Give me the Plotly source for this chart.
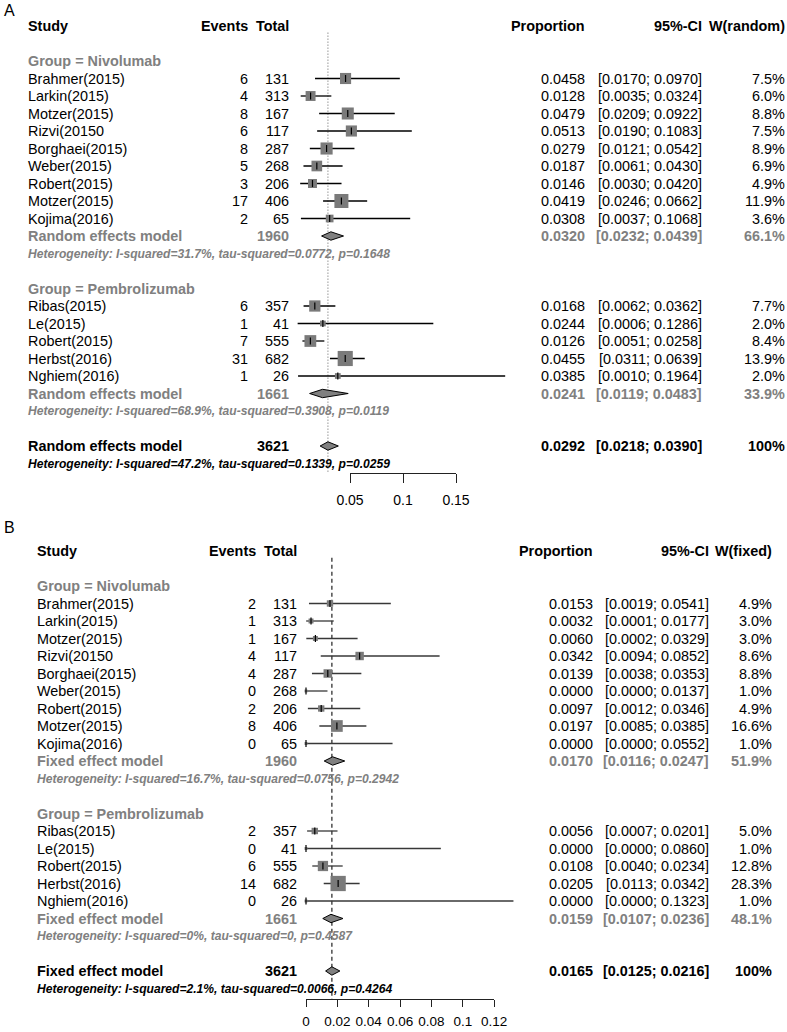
import plotly.graph_objects as go
import math

W, H = 787, 1032

# ---------------- data ----------------
studies_nivo = ["Brahmer(2015)", "Larkin(2015)", "Motzer(2015)", "Rizvi(20150", "Borghaei(2015)",
                "Weber(2015)", "Robert(2015)", "Motzer(2015)", "Kojima(2016)"]
studies_pemb = ["Ribas(2015)", "Le(2015)", "Robert(2015)", "Herbst(2016)", "Nghiem(2016)"]
total_nivo = [131, 313, 167, 117, 287, 268, 206, 406, 65]
total_pemb = [357, 41, 555, 682, 26]
total_nivo_sum = 1960
total_pemb_sum = 1661
total_all = 3621

# Panel A (random effects)
A_events_nivo = [6, 4, 8, 6, 8, 5, 3, 17, 2]
A_prop_nivo = [0.0458, 0.0128, 0.0479, 0.0513, 0.0279, 0.0187, 0.0146, 0.0419, 0.0308]
A_lo_nivo = [0.0170, 0.0035, 0.0209, 0.0190, 0.0121, 0.0061, 0.0030, 0.0246, 0.0037]
A_hi_nivo = [0.0970, 0.0324, 0.0922, 0.1083, 0.0542, 0.0430, 0.0420, 0.0662, 0.1068]
A_w_nivo = [7.5, 6.0, 8.8, 7.5, 8.9, 6.9, 4.9, 11.9, 3.6]
A_sum_nivo = [0.0320, 0.0232, 0.0439, 66.1]
A_het_nivo = "Heterogeneity: I-squared=31.7%, tau-squared=0.0772, p=0.1648"
A_events_pemb = [6, 1, 7, 31, 1]
A_prop_pemb = [0.0168, 0.0244, 0.0126, 0.0455, 0.0385]
A_lo_pemb = [0.0062, 0.0006, 0.0051, 0.0311, 0.0010]
A_hi_pemb = [0.0362, 0.1286, 0.0258, 0.0639, 0.1964]
A_w_pemb = [7.7, 2.0, 8.4, 13.9, 2.0]
A_sum_pemb = [0.0241, 0.0119, 0.0483, 33.9]
A_het_pemb = "Heterogeneity: I-squared=68.9%, tau-squared=0.3908, p=0.0119"
A_sum_all = [0.0292, 0.0218, 0.0390, 100]
A_het_all = "Heterogeneity: I-squared=47.2%, tau-squared=0.1339, p=0.0259"
A_ticks = [0.05, 0.1, 0.15]
A_ticklabels = ["0.05", "0.1", "0.15"]

# Panel B (fixed effect)
B_events_nivo = [2, 1, 1, 4, 4, 0, 2, 8, 0]
B_prop_nivo = [0.0153, 0.0032, 0.0060, 0.0342, 0.0139, 0.0000, 0.0097, 0.0197, 0.0000]
B_lo_nivo = [0.0019, 0.0001, 0.0002, 0.0094, 0.0038, 0.0000, 0.0012, 0.0085, 0.0000]
B_hi_nivo = [0.0541, 0.0177, 0.0329, 0.0852, 0.0353, 0.0137, 0.0346, 0.0385, 0.0552]
B_w_nivo = [4.9, 3.0, 3.0, 8.6, 8.8, 1.0, 4.9, 16.6, 1.0]
B_sum_nivo = [0.0170, 0.0116, 0.0247, 51.9]
B_het_nivo = "Heterogeneity: I-squared=16.7%, tau-squared=0.0756, p=0.2942"
B_events_pemb = [2, 0, 6, 14, 0]
B_prop_pemb = [0.0056, 0.0000, 0.0108, 0.0205, 0.0000]
B_lo_pemb = [0.0007, 0.0000, 0.0040, 0.0113, 0.0000]
B_hi_pemb = [0.0201, 0.0860, 0.0234, 0.0342, 0.1323]
B_w_pemb = [5.0, 1.0, 12.8, 28.3, 1.0]
B_sum_pemb = [0.0159, 0.0107, 0.0236, 48.1]
B_het_pemb = "Heterogeneity: I-squared=0%, tau-squared=0, p=0.4587"
B_sum_all = [0.0165, 0.0125, 0.0216, 100]
B_het_all = "Heterogeneity: I-squared=2.1%, tau-squared=0.0066, p=0.4264"
B_ticks = [0, 0.02, 0.04, 0.06, 0.08, 0.1, 0.12]
B_ticklabels = ["0", "0.02", "0.04", "0.06", "0.08", "0.1", "0.12"]

# ---------------- styling ----------------
FONT = "Liberation Sans, Arial, Helvetica, sans-serif"
GRAY = "#808080"
FS = 14.4
FS_HET = 12.1
ROW = 17.5

panels = [
    dict(name="A", xa="x", ya="y", axis="xaxis", yaxis="yaxis", tickaxis="xaxis3", tickref="x3",
         top_px=0, bot_px=515, row0=26, zero_px=297, unit_px=1060,
         study_x=27, ev_r=249.3, tot_r=290, prop_r=586, ci_r=702.5, w_r=786,
         wlab="W(random)", model="Random effects model",
         events_nivo=A_events_nivo, prop_nivo=A_prop_nivo, lo_nivo=A_lo_nivo, hi_nivo=A_hi_nivo, w_nivo=A_w_nivo,
         sum_nivo=A_sum_nivo, het_nivo=A_het_nivo,
         events_pemb=A_events_pemb, prop_pemb=A_prop_pemb, lo_pemb=A_lo_pemb, hi_pemb=A_hi_pemb, w_pemb=A_w_pemb,
         sum_pemb=A_sum_pemb, het_pemb=A_het_pemb, sum_all=A_sum_all, het_all=A_het_all,
         ticks=A_ticks, ticklabels=A_ticklabels, axis_px=472.7, ticklen=9, tickfs=14, sq=4.06,
         ref_dash="1px,2px", ref_col="#606060", ref_w=1.0, ci_col="black", standoff=5,
         label_y=10),
    dict(name="B", xa="x2", ya="y2", axis="xaxis2", yaxis="yaxis2", tickaxis="xaxis4", tickref="x4",
         top_px=515, bot_px=1032, row0=551, zero_px=306, unit_px=1568,
         study_x=36, ev_r=257.3, tot_r=298.3, prop_r=594, ci_r=709.5, w_r=773,
         wlab="W(fixed)", model="Fixed effect model",
         events_nivo=B_events_nivo, prop_nivo=B_prop_nivo, lo_nivo=B_lo_nivo, hi_nivo=B_hi_nivo, w_nivo=B_w_nivo,
         sum_nivo=B_sum_nivo, het_nivo=B_het_nivo,
         events_pemb=B_events_pemb, prop_pemb=B_prop_pemb, lo_pemb=B_lo_pemb, hi_pemb=B_hi_pemb, w_pemb=B_w_pemb,
         sum_pemb=B_sum_pemb, het_pemb=B_het_pemb, sum_all=B_sum_all, het_all=B_het_all,
         ticks=B_ticks, ticklabels=B_ticklabels, axis_px=999.3, ticklen=7, tickfs=13.5, sq=2.87,
         ref_dash="4px,3px", ref_col="#404040", ref_w=1.4, ci_col="#383838", standoff=2,
         label_y=527),
]

fig = go.Figure()
annotations = []
layout = {}


def txt(px, row, yref, s, anchor="left", bold=False, italic=False, color="black", size=FS):
    annotations.append(dict(
        x=px / W, xref="paper", y=row, yref=yref, text=s, showarrow=False,
        xanchor=anchor, yanchor="middle", borderpad=0,
        font=dict(family=FONT, size=size, color=color,
                  weight="bold" if bold else "normal",
                  style="italic" if italic else "normal")))


def fmt_ci(lo, hi):
    return f"[{lo:.4f}; {hi:.4f}]"


def fmt_w(w):
    return "100%" if w == 100 else f"{w:.1f}%"


for p in panels:
    xa, ya = p["xa"], p["ya"]
    yref = ya
    y_top_row = (p["top_px"] - p["row0"]) / ROW
    y_bot_row = (p["bot_px"] - p["row0"]) / ROW
    layout[p["yaxis"]] = dict(domain=[1 - p["bot_px"] / H, 1 - p["top_px"] / H],
                              range=[y_bot_row, y_top_row], visible=False, fixedrange=True, automargin=False)
    layout[p["axis"]] = dict(domain=[0, 1], range=[-p["zero_px"] / p["unit_px"], (W - p["zero_px"]) / p["unit_px"]],
                             visible=False, anchor=ya, fixedrange=True, automargin=False)
    t0, t1 = p["ticks"][0], p["ticks"][-1]
    layout[p["tickaxis"]] = dict(
        domain=[(p["zero_px"] + t0 * p["unit_px"]) / W, (p["zero_px"] + t1 * p["unit_px"]) / W],
        range=[t0, t1], anchor="free", position=1 - p["axis_px"] / H, automargin=False,
        showline=True, linecolor="#222", linewidth=1, ticks="outside", ticklen=p["ticklen"], tickwidth=1,
        tickcolor="#222", tickvals=p["ticks"], ticktext=p["ticklabels"], showgrid=False, zeroline=False,
        tickfont=dict(family=FONT, size=p["tickfs"], color="black"), ticklabelstandoff=p["standoff"],
        fixedrange=True)
    fig.add_trace(go.Scatter(x=[t0], y=[-100], xaxis=p["tickref"], yaxis=ya, mode="markers",
                             marker=dict(opacity=0), hoverinfo="skip", showlegend=False))

    nivo_rows = list(range(3, 3 + len(studies_nivo)))
    pemb_rows = list(range(16, 16 + len(studies_pemb)))
    rows = nivo_rows + pemb_rows
    props = p["prop_nivo"] + p["prop_pemb"]
    los = p["lo_nivo"] + p["lo_pemb"]
    his = p["hi_nivo"] + p["hi_pemb"]
    ws = p["w_nivo"] + p["w_pemb"]

    # reference line at overall estimate
    fig.add_trace(go.Scatter(x=[p["sum_all"][0], p["sum_all"][0]],
                             y=[0.38, (p["axis_px"] - p["row0"]) / ROW],
                             xaxis=xa, yaxis=ya, mode="lines",
                             line=dict(color=p["ref_col"], width=p["ref_w"], dash=p["ref_dash"]),
                             hoverinfo="skip", showlegend=False))

    # confidence intervals
    cx, cy = [], []
    for r, lo, hi in zip(rows, los, his):
        cx += [lo, hi, None]
        cy += [r, r, None]
    fig.add_trace(go.Scatter(x=cx, y=cy, xaxis=xa, yaxis=ya, mode="lines",
                             line=dict(color=p["ci_col"], width=1.3), hoverinfo="skip", showlegend=False))
    # weighted squares
    fig.add_trace(go.Scatter(x=props, y=rows, xaxis=xa, yaxis=ya, mode="markers",
                             marker=dict(symbol="square", size=[p["sq"] * math.sqrt(w) for w in ws],
                                         color="#7a7a7a", opacity=1, line=dict(width=0)),
                             hoverinfo="skip", showlegend=False))
    # point-estimate ticks
    fig.add_trace(go.Scatter(x=props, y=rows, xaxis=xa, yaxis=ya, mode="markers",
                             marker=dict(symbol="line-ns", size=5, line=dict(color="black", width=1.2)),
                             hoverinfo="skip", showlegend=False))
    # summary diamonds
    for r, s in [(12, p["sum_nivo"]), (21, p["sum_pemb"]), (24, p["sum_all"])]:
        est, lo, hi = s[0], s[1], s[2]
        h = 0.24
        fig.add_trace(go.Scatter(x=[lo, est, hi, est, lo], y=[r, r - h, r, r + h, r],
                                 xaxis=xa, yaxis=ya, mode="lines", fill="toself", fillcolor="#808080",
                                 line=dict(color="black", width=1), hoverinfo="skip", showlegend=False))

    # ---- text columns ----
    txt(3, (p["label_y"] - p["row0"]) / ROW, yref, p["name"], size=16)
    txt(p["study_x"], 0, yref, "Study", bold=True)
    txt(p["ev_r"], 0, yref, "Events", anchor="right", bold=True)
    txt(p["tot_r"], 0, yref, "Total", anchor="right", bold=True)
    txt(p["prop_r"], 0, yref, "Proportion", anchor="right", bold=True)
    txt(p["ci_r"], 0, yref, "95%-CI", anchor="right", bold=True)
    txt(p["w_r"], 0, yref, p["wlab"], anchor="right", bold=True)

    groups = [
        ("Group = Nivolumab", 2, studies_nivo, p["events_nivo"], total_nivo, p["prop_nivo"], p["lo_nivo"],
         p["hi_nivo"], p["w_nivo"], p["sum_nivo"], total_nivo_sum, p["het_nivo"]),
        ("Group = Pembrolizumab", 15, studies_pemb, p["events_pemb"], total_pemb, p["prop_pemb"], p["lo_pemb"],
         p["hi_pemb"], p["w_pemb"], p["sum_pemb"], total_pemb_sum, p["het_pemb"]),
    ]
    for gname, grow, studs, evs, tots, prs, lo_, hi_, w_, sm, tsum, het in groups:
        txt(p["study_x"], grow, yref, gname, bold=True, color=GRAY)
        for i, st in enumerate(studs):
            r = grow + 1 + i
            txt(p["study_x"], r, yref, st)
            txt(p["ev_r"], r, yref, str(evs[i]), anchor="right")
            txt(p["tot_r"], r, yref, str(tots[i]), anchor="right")
            txt(p["prop_r"], r, yref, f"{prs[i]:.4f}", anchor="right")
            txt(p["ci_r"], r, yref, fmt_ci(lo_[i], hi_[i]), anchor="right")
            txt(p["w_r"], r, yref, fmt_w(w_[i]), anchor="right")
        r = grow + 1 + len(studs)
        txt(p["study_x"], r, yref, p["model"], bold=True, color=GRAY)
        txt(p["tot_r"], r, yref, str(tsum), anchor="right", bold=True, color=GRAY)
        txt(p["prop_r"], r, yref, f"{sm[0]:.4f}", anchor="right", bold=True, color=GRAY)
        txt(p["ci_r"], r, yref, fmt_ci(sm[1], sm[2]), anchor="right", bold=True, color=GRAY)
        txt(p["w_r"], r, yref, fmt_w(sm[3]), anchor="right", bold=True, color=GRAY)
        txt(p["study_x"], r + 1, yref, het, bold=True, italic=True, color=GRAY, size=FS_HET)

    sm = p["sum_all"]
    txt(p["study_x"], 24, yref, p["model"], bold=True)
    txt(p["tot_r"], 24, yref, str(total_all), anchor="right", bold=True)
    txt(p["prop_r"], 24, yref, f"{sm[0]:.4f}", anchor="right", bold=True)
    txt(p["ci_r"], 24, yref, fmt_ci(sm[1], sm[2]), anchor="right", bold=True)
    txt(p["w_r"], 24, yref, fmt_w(sm[3]), anchor="right", bold=True)
    txt(p["study_x"], 25, yref, p["het_all"], bold=True, italic=True, size=FS_HET)

fig.update_layout(
    width=W, height=H, autosize=False,
    margin=dict(l=0, r=0, t=0, b=0, pad=0, autoexpand=False),
    paper_bgcolor="white", plot_bgcolor="rgba(0,0,0,0)",
    showlegend=False, annotations=annotations,
    font=dict(family=FONT, size=FS, color="black"),
    **layout,
)

fig.write_html(
    "out.html",
    config={"responsive": False, "displayModeBar": False},
    post_script="document.body.style.margin='0';document.documentElement.style.overflow='hidden';",
)
